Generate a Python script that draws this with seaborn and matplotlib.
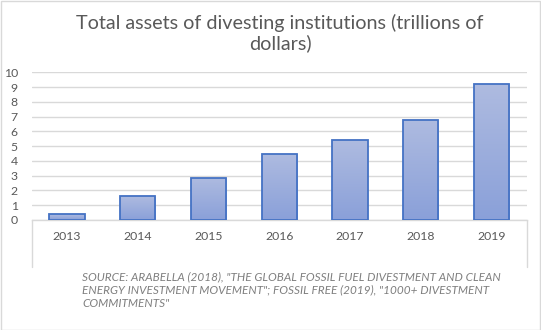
import numpy as np
import pandas as pd
import matplotlib
matplotlib.use("Agg")
import matplotlib.pyplot as plt
import seaborn as sns
from matplotlib.colors import LinearSegmentedColormap
from matplotlib.patches import Rectangle

years = ["2013", "2014", "2015", "2016", "2017", "2018", "2019"]
assets = [0.4, 1.62, 2.85, 4.5, 5.4, 6.8, 9.18]
y_ticks = [0, 1, 2, 3, 4, 5, 6, 7, 8, 9, 10]
title = "Total assets of divesting institutions (trillions of\ndollars)"
source = ('SOURCE: ARABELLA (2018), "THE GLOBAL FOSSIL FUEL DIVESTMENT AND CLEAN\n'
          'ENERGY INVESTMENT MOVEMENT"; FOSSIL FREE (2019), "1000+ DIVESTMENT\n'
          'COMMITMENTS"')

sns.set_theme(style="white")
plt.rcParams['font.family'] = ['Lato', 'DejaVu Sans']

W, H = 541, 330
fig = plt.figure(figsize=(W / 100, H / 100), dpi=100)
ax = fig.add_axes([31.7 / W, 1 - 220 / H, (526.7 - 31.7) / W, (220 - 72.3) / H])

df = pd.DataFrame({"year": years, "assets": assets})
sns.barplot(data=df, x="year", y="assets", ax=ax, width=0.5,
            color="#9aabdc", edgecolor="#4472c4", linewidth=1.3, zorder=2)

# gradient fill clipped to each bar
cmap = LinearSegmentedColormap.from_list("g", ["#8aa0d9", "#aebbe0"])
grad = np.linspace(0, 1, 256).reshape(-1, 1)
for p in ax.patches:
    x0, y0 = p.get_x(), p.get_y()
    w, h = p.get_width(), p.get_height()
    im = ax.imshow(grad, cmap=cmap, origin="lower", aspect="auto",
                   extent=[x0, x0 + w, y0, y0 + h], zorder=2.5)
    im.set_clip_path(p)
    p.set_facecolor("none")
    p.set_zorder(3)

ax.set_xlim(-0.5, len(years) - 0.5)
ax.set_ylim(0, 10)
ax.set_yticks(y_ticks)
ax.set_yticklabels([str(t) for t in y_ticks])
ax.set_xlabel("")
ax.set_ylabel("")
ax.grid(axis="y", color="#d9d9d9", linewidth=1.0, zorder=0)
ax.set_axisbelow(True)
for s in ["top", "right", "left"]:
    ax.spines[s].set_visible(False)
ax.spines["bottom"].set_color("#d9d9d9")
ax.spines["bottom"].set_linewidth(1.0)
ax.tick_params(axis="both", length=0, labelsize=8.8, labelcolor="#595959")
ax.tick_params(axis="y", pad=10)
ax.tick_params(axis="x", pad=8)

# category axis end lines
for xf in [0, 1]:
    ax.plot([xf, xf], [0, -47 / 147.7], transform=ax.transAxes, color="#d9d9d9",
            linewidth=1.0, clip_on=False)

fig.text(280 / W, 1 - 33 / H, title, ha="center", va="center", fontsize=14.2,
         color="#595959", linespacing=1.2)
fig.text(82 / W, 1 - 290 / H, source, ha="left", va="center", fontsize=8.5,
         color="#7f7f7f", style="italic", linespacing=1.3)

fig.patches.append(Rectangle((0.5 / W, 0.5 / H), 1 - 1.5 / W, 1 - 1.5 / H,
                             transform=fig.transFigure, fill=False,
                             edgecolor="#d9d9d9", linewidth=1.0))

fig.savefig("out.png", dpi=100, facecolor="white")
